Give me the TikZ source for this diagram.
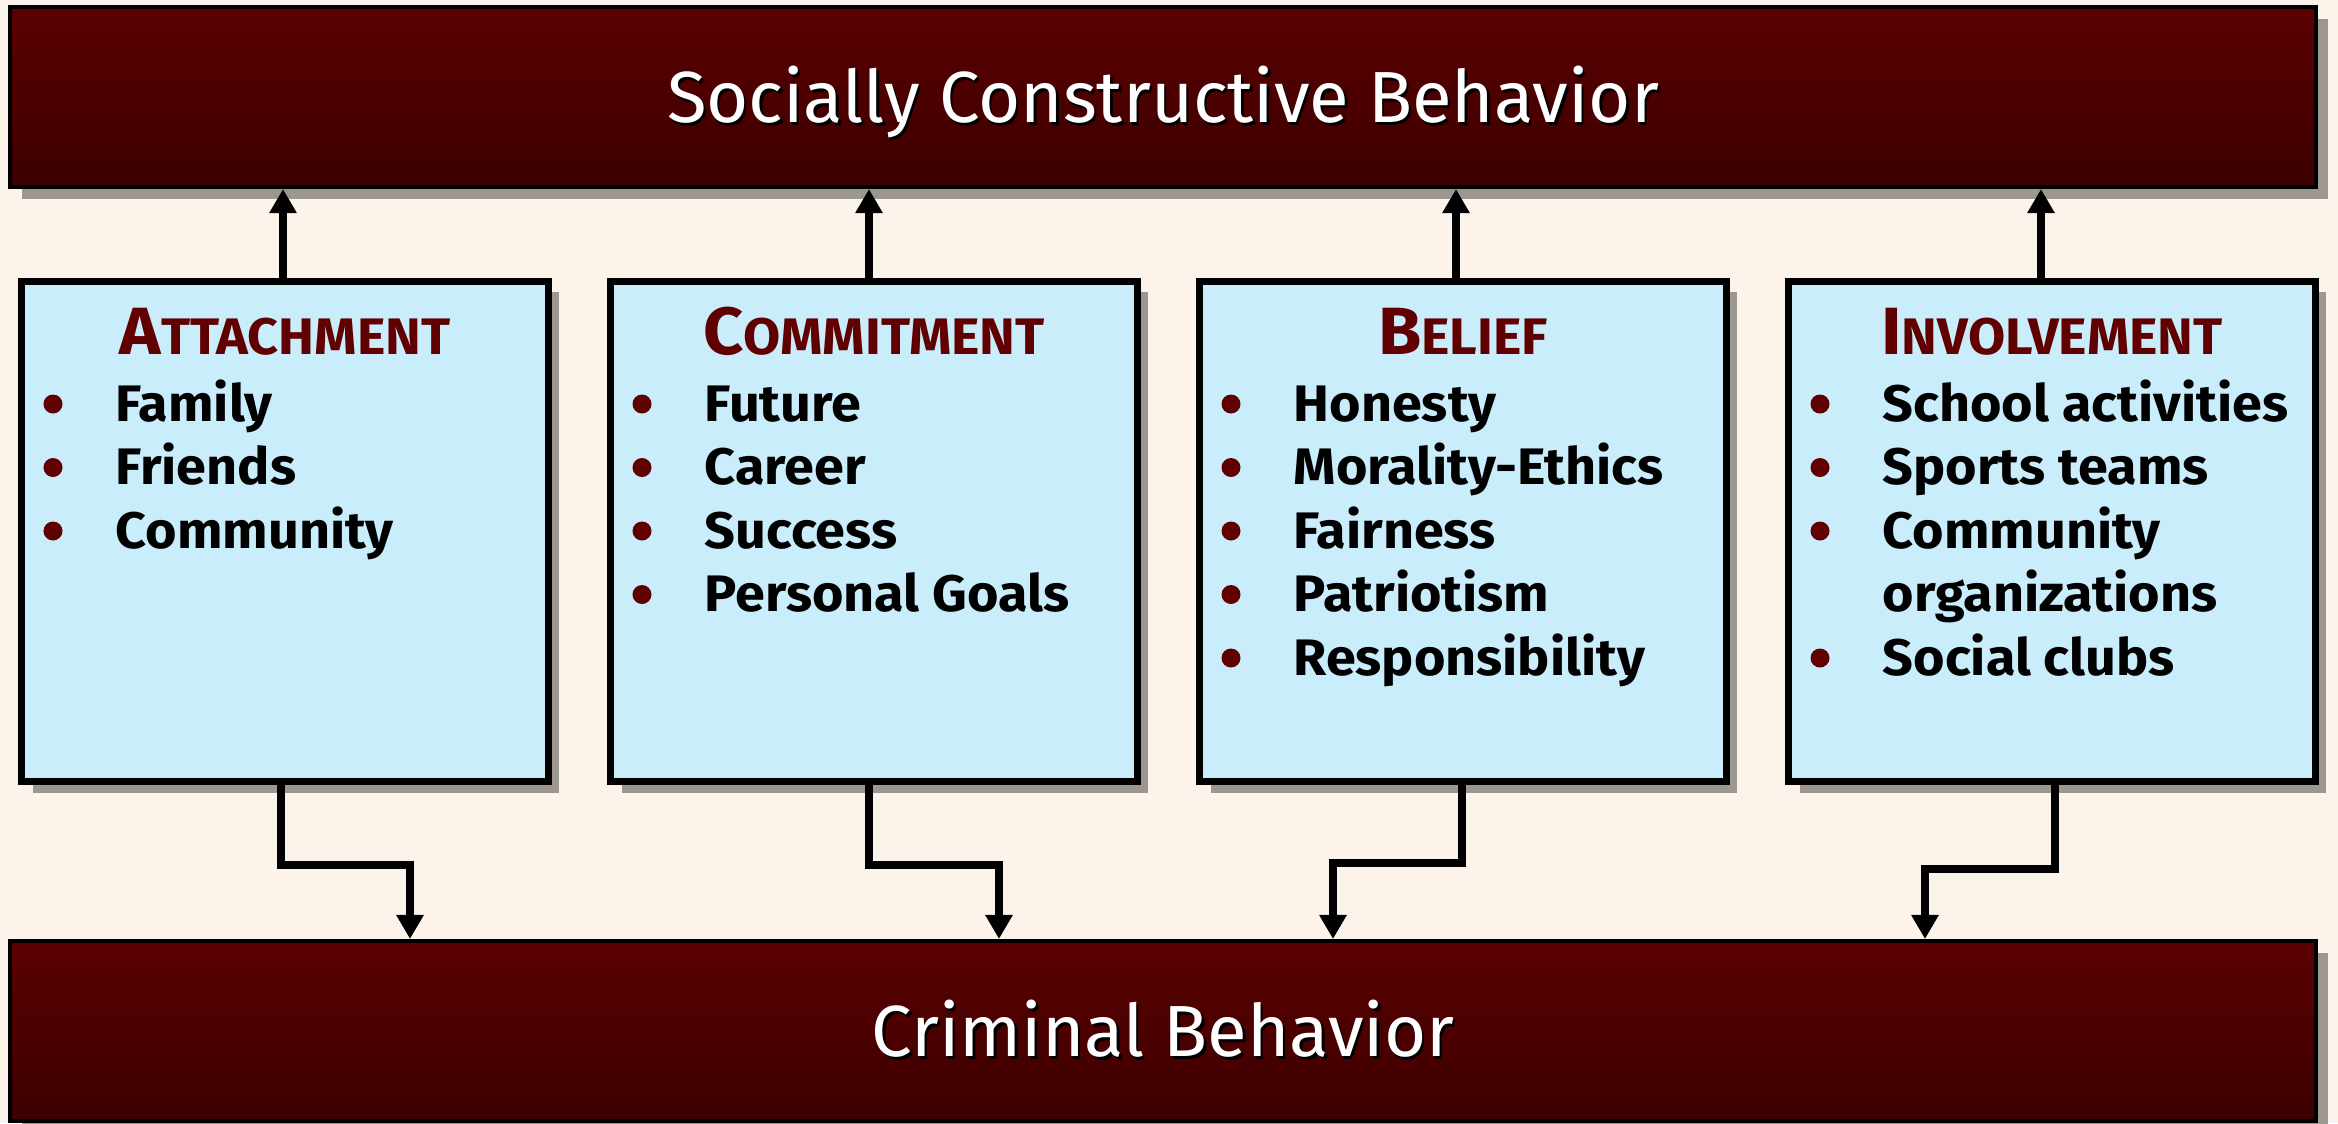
\documentclass[tikz,border=0pt]{standalone}
\usepackage{fontspec}
\setmainfont{Fira Sans}[BoldFeatures={FakeStretch=1.05}]
\usetikzlibrary{arrows.meta,shadows,positioning}
\definecolor{pagebg}{HTML}{FCF4EA}
\definecolor{bartop}{HTML}{5A0000}
\definecolor{barbot}{HTML}{3D0000}
\definecolor{boxblue}{HTML}{CAEDFB}
\definecolor{headred}{HTML}{600000}
\definecolor{shadowgray}{HTML}{9C9890}
\newcommand\shtext[1]{\makebox[0pt][l]{\hspace{0.7pt}\raisebox{-1pt}{\color{black}#1}}#1}
\begin{document}
\begin{tikzpicture}[x=0.01cm,y=-0.01cm,
  behbar/.style={draw=black,line width=0.04cm,top color=bartop,bottom color=barbot,
    minimum width=23.04cm,minimum height=1.8cm,text=white,
    font=\fontsize{20.6}{24}\selectfont,text height=0.5cm,text depth=0pt,
    drop shadow={shadow xshift=0.12cm,shadow yshift=-0.12cm,fill=shadowgray,opacity=1}},
  elembox/.style={draw=black,line width=0.07cm,fill=boxblue,
    minimum width=5.26cm,minimum height=5cm,
    drop shadow={shadow xshift=0.11cm,shadow yshift=-0.11cm,fill=shadowgray,opacity=1}},
  elemhead/.style={anchor=base,inner sep=0pt,text=headred,font=\bfseries},
  itemtxt/.style={anchor=base west,inner sep=0pt,font=\bfseries\fontsize{14.6}{17}\selectfont},
  flow/.style={line width=0.08cm,-{Triangle[width=0.26cm,length=0.24cm]}}]
\useasboundingbox (0,0) rectangle (2338,1123);
\fill[pagebg] (0,0) rectangle (2338,1123);
\node[behbar] (top) at (1163,97) {\shtext{Socially Constructive Behavior}};
\node[behbar] (crim) at (1163,1031) {\shtext{Criminal Behavior}};
\foreach \cx/\nm/\hd/\tl/\ux/\dx/\dy/\ex in
  {285/att/A/TTACHMENT/-2/-4/80/410, 874/com/C/OMMITMENT/-5/-5/80/999,
   1463/bel/B/ELIEF/-7/-1/78/1333, 2052/inv/I/NVOLVEMENT/-11/3/84/1925}
{
\node[elembox] (\nm) at (\cx,531.5) {};
\node[elemhead] (\nm-head) at (\cx,354)
  {{\fontsize{19}{20}\selectfont\hd}{\fontsize{14.6}{16}\selectfont\tl}};
\draw[flow] ([shift={(\ux,0)}]\nm.north) -- ([shift={(\ux,0)}]\nm.north |- top.south);
\path (\ex,0) coordinate (\nm-x);
\draw[flow] ([shift={(\dx,0)}]\nm.south) -- ++(0,\dy) -| (crim.north -| \nm-x);
}
\foreach \t [count=\i] in {Family,Friends,Community}
  \node[itemtxt] (att-\i) at (115,{357.5+63.5*\i}) {\t};
\foreach \t [count=\i] in {Future,Career,Success,Personal Goals}
  \node[itemtxt] (com-\i) at (704,{357.5+63.5*\i}) {\t};
\foreach \t [count=\i] in {Honesty,Morality-Ethics,Fairness,Patriotism,Responsibility}
  \node[itemtxt] (bel-\i) at (1293,{357.5+63.5*\i}) {\t};
\foreach \t [count=\i] in {School activities,Sports teams,Community,organizations,Social clubs}
  \node[itemtxt] (inv-\i) at (1882,{357.5+63.5*\i}) {\t};
\foreach \i in {1,2,3}
  \fill[headred] (53,{340.5+63.5*\i}) circle[radius=0.095cm];
\foreach \i in {1,2,3,4}
  \fill[headred] (642,{340.5+63.5*\i}) circle[radius=0.095cm];
\foreach \i in {1,2,3,4,5}
  \fill[headred] (1231,{340.5+63.5*\i}) circle[radius=0.095cm];
\foreach \i in {1,2,3,5}
  \fill[headred] (1820,{340.5+63.5*\i}) circle[radius=0.095cm];
\end{tikzpicture}
\end{document}
